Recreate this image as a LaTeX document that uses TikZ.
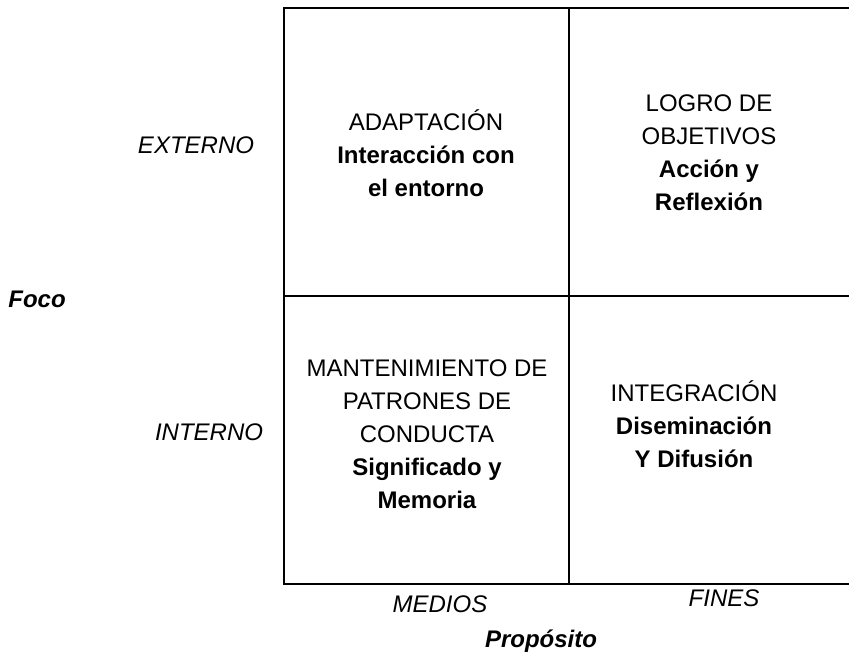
\documentclass[tikz,border=0pt]{standalone}
\usepackage{fontspec}
\setmainfont{Liberation Sans}
\usepackage{tikz}

\tikzset{
  celltext/.style={align=center, font=\fontsize{24}{33}\selectfont},
  axistext/.style={font=\fontsize{24}{33}\selectfont\itshape},
  axistitle/.style={font=\fontsize{24}{33}\selectfont\bfseries\itshape},
  gridline/.style={draw=black, line width=2.8pt, line cap=rect}
}

\begin{document}
\begin{tikzpicture}[x=1pt, y=-1pt, inner sep=0pt, outer sep=0pt]
  \useasboundingbox (0,0) rectangle (849,656);
  % corners of the grid
  \coordinate (tl) at (284,8);
  \coordinate (tr) at (849,8);
  \coordinate (ml) at (284,296);
  \coordinate (mr) at (849,296);
  \coordinate (bl) at (284,584);
  \coordinate (br) at (849,584);
  \coordinate (tm) at (569,8);
  \coordinate (bm) at (569,584);
  \path[gridline] (tr) -- (tl) -- (bl) -- (br);
  \path[gridline] (ml) -- (mr);
  \path[gridline] (tm) -- (bm);
  % quadrants
  \node[celltext] (adapt) at (426,153)
    {ADAPTACIÓN\\ \textbf{Interacción con}\\ \textbf{el entorno}};
  \node[celltext] (logro) at (709,153)
    {LOGRO DE\\ OBJETIVOS\\ \textbf{Acción y}\\ \textbf{Reflexión}};
  \node[celltext] (mant) at (427,434)
    {MANTENIMIENTO DE\\ PATRONES DE\\ CONDUCTA\\ \textbf{Significado y}\\ \textbf{Memoria}};
  \node[celltext] (integ) at (694,424)
    {INTEGRACIÓN\\ \textbf{Diseminación}\\ \textbf{Y Difusión}};
  % axes
  \node[axistext] (ext) at (196,145) {EXTERNO};
  \node[axistext] (int) at (209,432) {INTERNO};
  \node[axistitle] (foco) at (37,299) {Foco};
  \node[axistext] (medios) at (440,604) {MEDIOS};
  \node[axistext] (fines) at (724,598) {FINES};
  \node[axistitle] (prop) at (541,641) {Propósito};
\end{tikzpicture}
\end{document}
